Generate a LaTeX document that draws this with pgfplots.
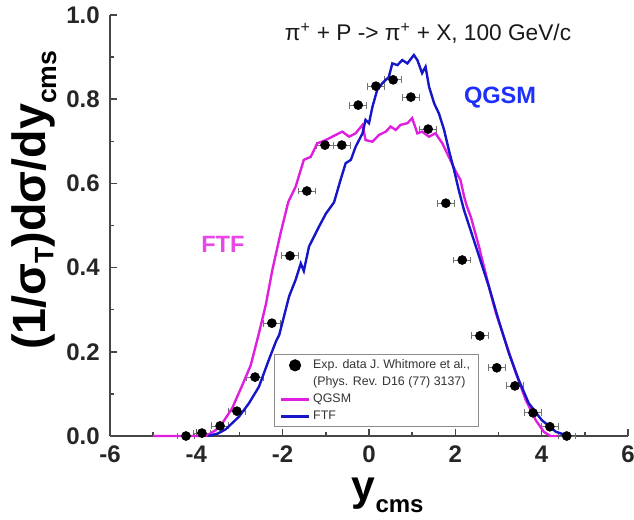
\documentclass[border=0pt]{standalone}
\usepackage{pgfplots}
\pgfplotsset{compat=1.18}
\usepackage{pgfplotstable}
\usepackage{fontspec}
\setmainfont{Liberation Sans}

\definecolor{curveMag}{RGB}{222,32,222}
\definecolor{curveBlue}{RGB}{22,22,200}
\definecolor{labelMag}{RGB}{232,72,232}
\definecolor{labelBlue}{RGB}{28,48,250}
\definecolor{axisGray}{RGB}{70,70,70}

% Whitmore et al. data: y_cms, (1/sigma_T) dsigma/dy, x error
\pgfplotstableread{
x      y      ex
-4.24  0.000  0.2
-3.87  0.007  0.2
-3.45  0.024  0.2
-3.06  0.059  0.2
-2.64  0.140  0.2
-2.25  0.268  0.2
-1.83  0.428  0.2
-1.44  0.582  0.2
-1.02  0.691  0.2
-0.63  0.691  0.2
-0.25  0.786  0.2
 0.16  0.831  0.2
 0.56  0.846  0.2
 0.97  0.805  0.2
 1.37  0.729  0.2
 1.78  0.553  0.2
 2.16  0.418  0.2
 2.57  0.238  0.2
 2.96  0.162  0.2
 3.38  0.119  0.2
 3.80  0.055  0.2
 4.19  0.022  0.2
 4.58  0.000  0.2
}\expdata

% QGSM calculation
\pgfplotstableread{
x      y
-5.00  0.000
-3.80  0.000
-3.71  0.004
-3.55  0.014
-3.40  0.030
-3.17  0.066
-2.93  0.122
-2.74  0.168
-2.55  0.244
-2.39  0.312
-2.24  0.394
-2.05  0.481
-1.87  0.556
-1.70  0.592
-1.51  0.656
-1.35  0.663
-1.20  0.695
-1.00  0.703
-0.85  0.711
-0.62  0.723
-0.46  0.711
-0.31  0.719
-0.15  0.739
-0.08  0.703
 0.08  0.699
 0.23  0.715
 0.39  0.723
 0.50  0.735
 0.62  0.727
 0.73  0.739
 0.89  0.743
 1.00  0.755
 1.12  0.719
 1.23  0.723
 1.39  0.711
 1.54  0.719
 1.70  0.695
 1.85  0.663
 2.01  0.628
 2.12  0.608
 2.20  0.570
 2.26  0.548
 2.36  0.520
 2.55  0.449
 2.78  0.354
 2.94  0.292
 3.17  0.221
 3.40  0.150
 3.63  0.086
 3.86  0.038
 4.05  0.010
 4.20  0.000
 4.35  0.000
}\qgsm

% FTF calculation
\pgfplotstableread{
x      y
-3.72  0.000
-3.50  0.006
-3.32  0.016
-3.01  0.046
-2.78  0.078
-2.55  0.117
-2.32  0.181
-2.15  0.226
-2.08  0.240
-1.85  0.332
-1.70  0.371
-1.58  0.410
-1.51  0.392
-1.39  0.450
-1.16  0.497
-1.00  0.528
-0.81  0.555
-0.66  0.608
-0.54  0.648
-0.42  0.656
-0.31  0.687
-0.15  0.719
-0.08  0.751
 0.00  0.743
 0.08  0.782
 0.19  0.822
 0.31  0.838
 0.46  0.853
 0.54  0.885
 0.66  0.881
 0.77  0.893
 0.89  0.885
 1.04  0.905
 1.12  0.893
 1.23  0.862
 1.31  0.877
 1.39  0.830
 1.51  0.790
 1.62  0.766
 1.74  0.727
 1.85  0.679
 1.97  0.632
 2.08  0.584
 2.20  0.537
 2.48  0.449
 2.78  0.354
 3.00  0.276
 3.24  0.197
 3.47  0.133
 3.70  0.078
 4.00  0.038
 4.33  0.010
 4.62  0.000
}\ftf

\begin{document}
\begin{tikzpicture}
\useasboundingbox (0,0) rectangle (475.5pt,389.25pt);
\begin{axis}[
  at={(82.5pt,62.25pt)}, anchor=south west,
  width=388.5pt, height=315.75pt, scale only axis,
  xmin=-6, xmax=6, ymin=0, ymax=1.0,
  axis x line*=bottom, axis y line*=left,
  axis line style={axisGray, line width=1.5pt},
  every tick/.style={axisGray, line width=1.1pt},
  tick align=inside,
  major tick length=5pt, minor tick length=3pt,
  xtick={-6,-4,...,6}, xticklabels={-6,-4,-2,0,2,4,6},
  ytick={0,0.2,0.4,0.6,0.8,1.0}, yticklabels={0.0,0.2,0.4,0.6,0.8,1.0},
  minor x tick num=1, minor y tick num=1,
  ticklabel style={font=\bfseries\fontsize{18}{18}\selectfont, text=black!85},
  xticklabel style={inner sep=0pt, yshift=-7pt},
  yticklabel style={inner sep=0pt, xshift=-7.5pt},
  xlabel={\fontsize{32}{32}\selectfont\bfseries y\fontsize{18}{18}\selectfont\raisebox{-9pt}{cms}},
  xlabel style={at={(axis description cs:0.5,0)}, anchor=north, inner sep=0pt, xshift=14pt, yshift=-31pt},
  ylabel={\bfseries\fontsize{35}{35}\selectfont (1/σ\raisebox{-6pt}{\fontsize{20}{20}\selectfont T})dσ/dy\raisebox{-8pt}{\fontsize{20}{20}\selectfont cms}},
  ylabel style={at={(axis description cs:-0.103,0.560)}, anchor=south, inner sep=0pt},
  legend style={at={(axis description cs:0.3166,0.0214)}, anchor=south west,
    draw=black!45, fill=white,
    font=\fontsize{9.3}{10}\selectfont, text=black!80,
    row sep=0.6pt, inner xsep=4pt, inner ysep=2pt},
  legend cell align=left,
  legend image code/.code={
    \draw[#1] (0pt,0pt) -- (21pt,0pt);
  },
  legend image post style={line width=2.2pt},
  clip=false,
]
\addplot[only marks, mark=*, mark size=3.4pt, black,
  legend image code/.code={\fill[black] (10.5pt,0pt) circle (3.4pt);},
  error bars/.cd, x dir=both, x explicit,
  error bar style={black!55, line width=0.6pt},
  error mark options={rotate=90, mark size=2.6pt, black!55, line width=0.6pt}]
  table[x=x, y=y, x error=ex] {\expdata};
\addlegendentry{Exp. data J. Whitmore et al.,}
\addlegendimage{empty legend}
\addlegendentry{(Phys. Rev. D16 (77) 3137)}
\addplot[curveMag, line width=1.8pt] table[x=x, y=y] {\qgsm};
\addlegendentry{QGSM}
\addplot[curveBlue, line width=1.8pt] table[x=x, y=y] {\ftf};
\addlegendentry{FTF}

\node[font=\fontsize{17}{17}\selectfont, text=black!90] at (axis description cs:0.614,0.957)
  {π\textsuperscript{+} + P -> π\textsuperscript{+} + X, 100 GeV/c};
\node[font=\bfseries\fontsize{17.7}{17.7}\selectfont, text=labelBlue] at (axis description cs:0.753,0.805) {QGSM};
\node[font=\bfseries\fontsize{17.7}{17.7}\selectfont, text=labelMag] at (axis description cs:0.218,0.454) {FTF};
\end{axis}
\end{tikzpicture}
\end{document}
